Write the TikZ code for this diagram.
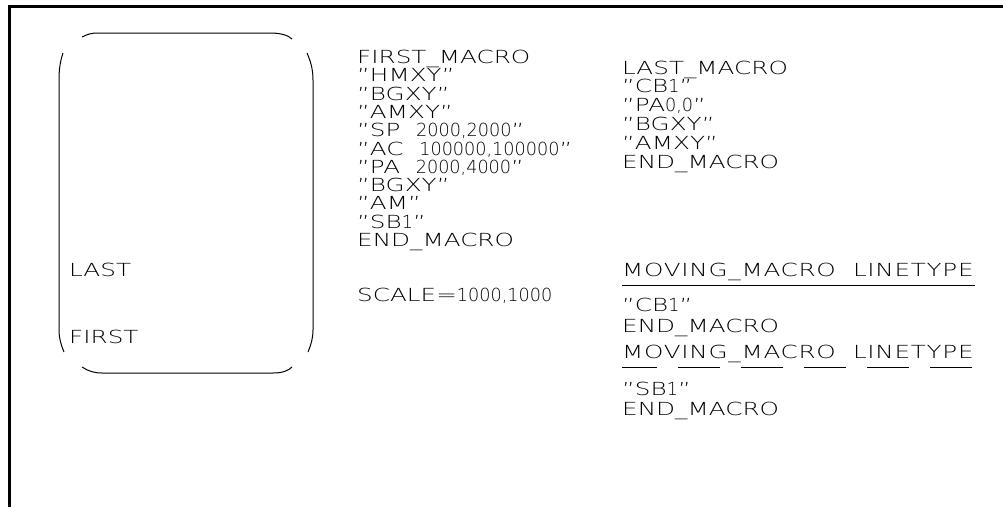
\documentclass[tikz,border=0pt]{standalone}
\usepackage{fontspec}
\setmainfont{DejaVu Sans}[UprightFont={* ExtraLight}, FakeStretch=1.37]
\newfontfamily\cadnum{DejaVu Sans}[UprightFont={* ExtraLight}, FakeStretch=0.98]
\begin{document}
\begin{tikzpicture}[x=1pt,y=-1pt,
    cadtext/.style={anchor=base west, inner sep=0pt, font=\fontsize{18}{22}\selectfont},
    widetext/.style={cadtext, font=\fontsize{18}{22}\selectfont\addfontfeature{LetterSpace=4}},
    cadline/.style={line width=1pt}]
    \useasboundingbox (0,0) rectangle (1003,507);

            % frame
            \draw[line width=3pt] (9,507) -- (9,6) -- (1003,6);

            % rounded box, open at the corners
            \draw[cadline] (82,37) .. controls (88,34) and (92,33) .. (97,33) -- (270,33) .. controls (280,33) and (288,35) .. (292,39);
            \draw[cadline] (82,367) .. controls (88,371) and (94,373) .. (102,373) -- (273,373) .. controls (282,373) and (288,371) .. (292,367);
            \draw[cadline] (63,53) .. controls (60,62) and (59,70) .. (59,80) -- (59,330) .. controls (59,338) and (61,345) .. (64,352);
            \draw[cadline] (307,53) .. controls (311,62) and (313,70) .. (313,80) -- (313,330) .. controls (313,338) and (311,345) .. (308,352);
                \node[cadtext] (last) at (69,276.5) {LAST};
                \node[cadtext] (first) at (69,343.5) {FIRST};

            % first macro
            \node[cadtext] (fm1) at (357,63.5) {FIRST\_MACRO};
            \node[cadtext] (fm2) at (357,81.8) {"HMXY"};
            \node[cadtext] (fm3) at (357,100.1) {"BGXY"};
            \node[cadtext] (fm4) at (357,118.4) {"AMXY"};
            \node[cadtext] (fm5) at (357,136.7) {"SP\ \ {\cadnum 2000,2000}"};
            \node[cadtext] (fm6) at (357,155) {"AC\ \ {\cadnum 100000,100000}"};
            \node[cadtext] (fm7) at (357,173.3) {"PA\ \ {\cadnum 2000,4000}"};
            \node[cadtext] (fm8) at (357,191.6) {"BGXY"};
            \node[cadtext] (fm9) at (357,209.9) {"AM"};
            \node[cadtext] (fm10) at (357,228.2) {"SB{\cadnum 1}"};
            \node[cadtext] (fm11) at (357,246.5) {END\_MACRO};
            \node[cadtext] (scale) at (357,301.5) {SCALE={\cadnum 1000,1000}};

            % last macro
            \node[cadtext] (lm1) at (622,74) {LAST\_MACRO};
            \node[cadtext] (lm2) at (622,92.8) {"CB{\cadnum 1}"};
            \node[cadtext] (lm3) at (622,111.6) {"PA{\cadnum 0,0}"};
            \node[cadtext] (lm4) at (622,130.4) {"BGXY"};
            \node[cadtext] (lm5) at (622,149.2) {"AMXY"};
            \node[cadtext] (lm6) at (622,168) {END\_MACRO};

            % moving macros
            \node[widetext] (mv1) at (622,276) {MOVING\_MACRO\ \ LINETYPE};
            \draw[cadline] (622,285) -- (975,285);
            \node[cadtext] (mv2) at (622,311) {"CB{\cadnum 1}"};
            \node[cadtext] (mv3) at (622,332) {END\_MACRO};

            \node[widetext] (mw1) at (622,358) {MOVING\_MACRO\ \ LINETYPE};
            \draw[cadline, dash pattern=on 42pt off 21pt, dash phase=7pt] (622,367) -- (975,367);
            \node[cadtext] (mw2) at (622,395) {"SB{\cadnum 1}"};
            \node[cadtext] (mw3) at (622,415) {END\_MACRO};
      \end{tikzpicture}
\end{document}
